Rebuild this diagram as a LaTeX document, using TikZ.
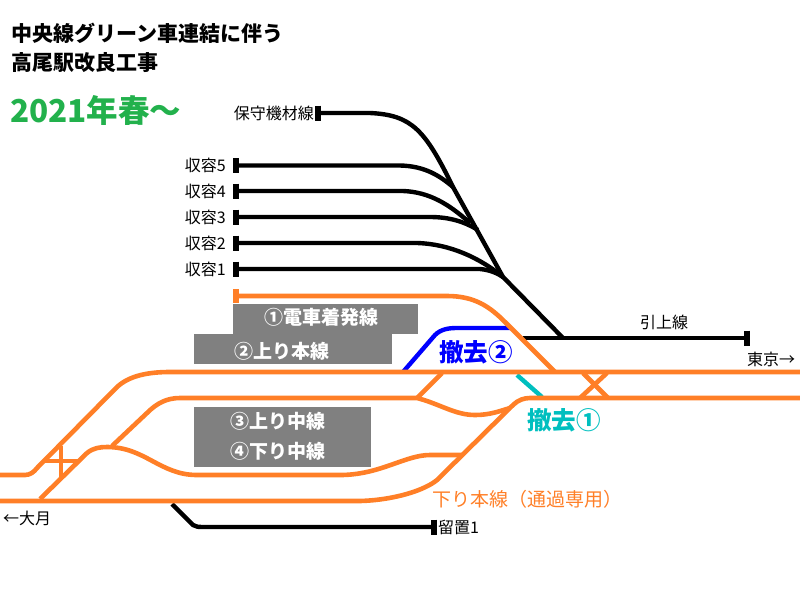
\documentclass[tikz,border=0pt]{standalone}
\usepackage{fontspec}
\setmainfont{Noto Sans CJK JP}
\usepackage{tikz}
\usetikzlibrary{positioning,calc}

\definecolor{railorange}{HTML}{FF7F27}
\definecolor{titlegreen}{HTML}{22B14C}
\definecolor{removeteal}{HTML}{00BFBF}

\begin{document}
\begin{tikzpicture}[x=1pt, y=-1pt,
  rail/.style={draw=railorange, line width=4.6pt},
  siding/.style={draw=black, line width=4.4pt},
  stopbar/.style={line width=5.5pt},
  platform/.style={text=white, font=\fontsize{19}{19}\selectfont\bfseries, inner sep=0pt},
  linelabel/.style={font=\fontsize{16}{16}\selectfont, inner sep=0pt},
  removal/.style={font=\fontsize{24.5}{24.5}\selectfont\bfseries, inner sep=0pt}]
\useasboundingbox (0,0) rectangle (800,600);

% platforms
\fill[gray] (233,304) rectangle (418,334);
\fill[gray] (194,334) rectangle (392,364);
\fill[gray] (194,407) rectangle (371,467);
\node[platform] (p1) at (321,317) {①電車着発線};
\node[platform] (p2) at (282,351) {②上り本線};
\node[platform] (p3) at (278,421) {③上り中線};
\node[platform] (p4) at (278,451) {④下り中線};

% titles
\node[anchor=west, inner sep=0pt, font=\fontsize{21}{21}\selectfont\bfseries] (title1) at (11,33) {中央線グリーン車連結に伴う};
\node[anchor=west, inner sep=0pt, font=\fontsize{21}{21}\selectfont\bfseries] (title2) at (11,63) {高尾駅改良工事};
\node[anchor=west, inner sep=0pt, text=titlegreen, font=\fontsize{31.5}{31.5}\selectfont\bfseries] (title3) at (10,110) {2021年春～};

% siding ends
\coordinate (keep) at (318,113);
\coordinate (s5) at (236,165.5);
\coordinate (s4) at (236,191);
\coordinate (s3) at (236,217);
\coordinate (s2) at (236,243);
\coordinate (s1) at (236,269);
\coordinate (pull) at (747,338);
\coordinate (stable) at (434,527);
\coordinate (fan) at (503,277);
\coordinate (neck) at (563,338);

\foreach \e in {keep,s5,s4,s3,s2,s1,pull,stable}
  \draw[stopbar] ($(\e)+(0,-7.5)$) -- ($(\e)+(0,7.5)$);

\node[linelabel, left=4pt of keep] (keeplab) {保守機材線};
\node[linelabel, left=10pt of s5] (s5lab) {収容5};
\node[linelabel, left=10pt of s4] (s4lab) {収容4};
\node[linelabel, left=10pt of s3] (s3lab) {収容3};
\node[linelabel, left=10pt of s2] (s2lab) {収容2};
\node[linelabel, left=10pt of s1] (s1lab) {収容1};
\node[linelabel] (pulllab) at (664,322) {引上線};
\node[linelabel] (tokyo) at (771,359) {東京→};
\node[linelabel] (otsuki) at (27,518) {←大月};
\node[linelabel, right=4pt of stable] (stablelab) {留置1};

% black sidings
\draw[siding] (keep) -- (370,113) .. controls (412,115) and (425,130) .. (453,187) -- (fan) -- (neck);
\draw[siding] (s5) -- (400,165.5) .. controls (425,166) and (440,176) .. (453,187);
\draw[siding] (s4) -- (403,191) .. controls (430,192) and (450,205) .. (470,223);
\draw[siding] (s3) -- (430,217) .. controls (450,217) and (465,222) .. (478,230);
\draw[siding] (s2) -- (417,243) .. controls (450,244) and (480,258) .. (fan);
\draw[siding] (s1) -- (480,269) .. controls (490,270) and (497,273) .. (fan);
\draw[siding] (523,338) -- (pull);
\draw[siding] (172,504) -- (193,525) .. controls (196,527) and (199,527) .. (202,527) -- (stable);

% removed tracks
\draw[line width=4.4pt, draw=blue] (403,372) -- (435,335) .. controls (441,329) and (449,328) .. (457,328) -- (511,328);
\draw[line width=4.4pt, draw=removeteal] (517,375) -- (542,397);
\node[removal, text=blue] (rem2) at (476,352) {撤去②};
\node[removal, text=removeteal] (rem1) at (564,420) {撤去①};

% orange tracks
\draw[rail] (235,296) -- (447,296) .. controls (475,296) and (490,307) .. (505,322) -- (555,372);
\draw[stopbar, draw=railorange] (236,289) -- (236,303);
\draw[rail] (0,475) -- (25,475) .. controls (30,475) and (34,472) .. (37,468) -- (117,387) .. controls (130,375) and (150,372) .. (170,372) -- (800,372);
\draw[rail] (0,501) -- (360,501) .. controls (395,500) and (425,490) .. (437,480) -- (513,405) .. controls (518,400) and (524,398) .. (530,398) -- (800,398);
\draw[rail] (40,499) -- (87,453) .. controls (93,448) and (100,447) .. (107,447) .. controls (145,447) and (160,475) .. (197,475) -- (340,475) .. controls (380,475) and (405,455) .. (430,455) -- (462,455);
\draw[rail] (112,446) -- (147,413) .. controls (157,403) and (167,398) .. (180,398) -- (417,398) .. controls (440,404) and (455,415) .. (475,415) .. controls (490,415) and (500,411) .. (510,408);
\draw[rail] (417,398) -- (442,373);
\draw[rail] (580,398) -- (607,373);
\draw[rail] (583,373) -- (608,398);
\draw[rail] (61,446) -- (61,479);
\draw[rail] (44,461) -- (80,461);

\node[inner sep=0pt, text=railorange, font=\fontsize{19}{19}\selectfont] (downmain) at (527,499) {下り本線（通過専用）};
\end{tikzpicture}
\end{document}
